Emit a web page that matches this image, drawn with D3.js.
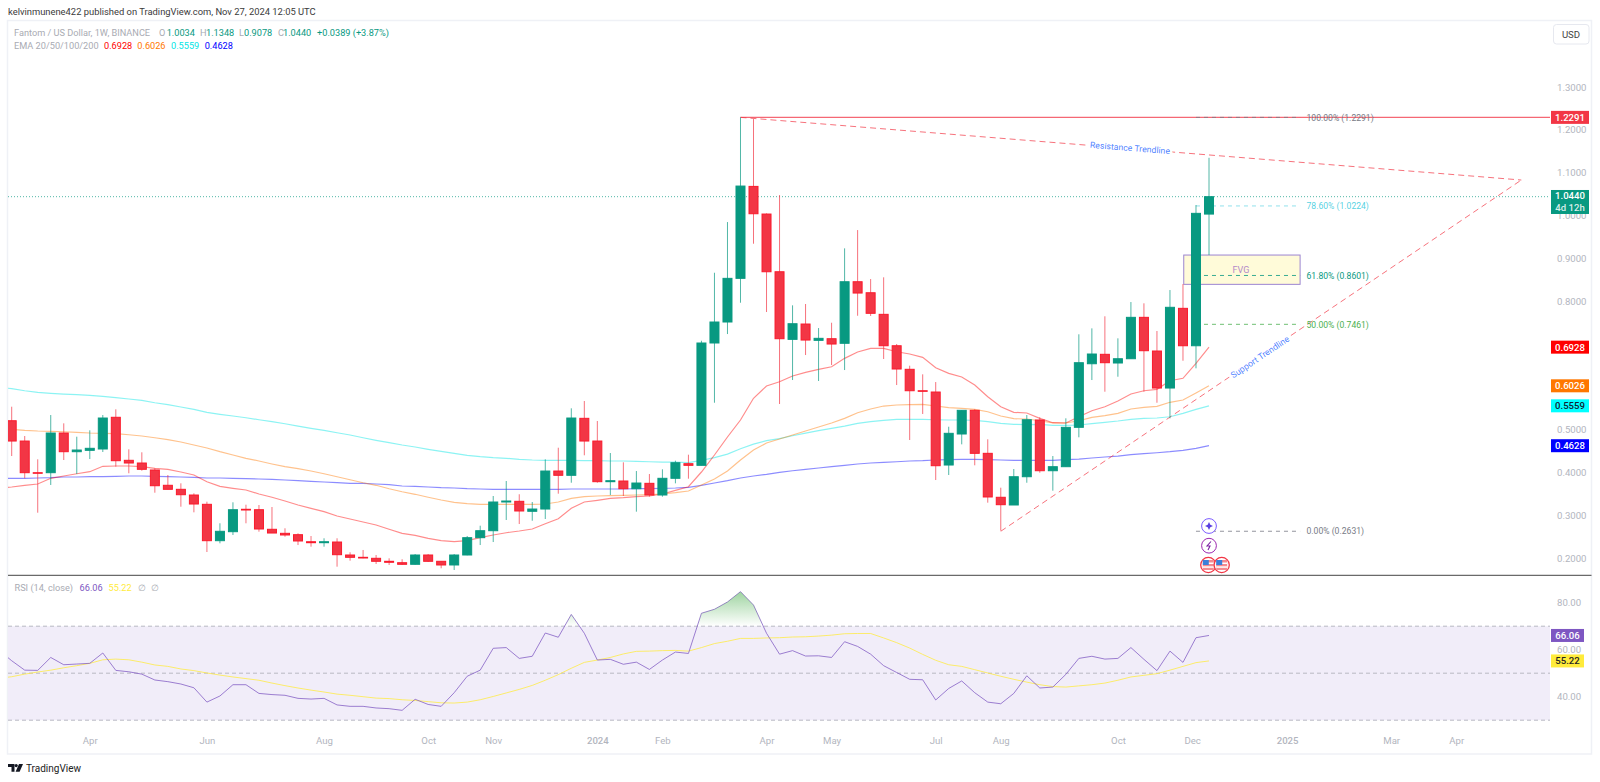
<!DOCTYPE html>
<html>
<head>
<meta charset="utf-8">
<title>Fantom / US Dollar</title>
<script src="https://d3js.org/d3.v7.min.js"></script>
<style>
    html, body { margin: 0; padding: 0; background: #fff; }
    svg { display: block; }
    text { font-family: Roboto, "Liberation Sans", sans-serif; }
    .tick text { fill: #b2b5be; font-size: 9.6px; }
</style>
</head>
<body>
<script>

// Weekly candles, first bar is index 0
var opens = [
    .5211,.4737,.3998,.3998,.4924,.4488,.4520,.4551,.5291,.4287,
    .4224,.4061,.3704,.3610,.3477,.3260,.2411,.2621,.3144,.3134,
    .2677,.2583,.2551,.2387,.2364,.2380,.2077,.2023,.2000,.1930,
    .1897,.1860,.2077,.1930,.1844,.2077,.2481,.2644,.3314,.3330,
    .3097,.3150,.4037,.3937,.5267,.4737,.3788,.3804,.3624,.3750,
    .3477,.3867,.4208,.4170,.7025,.7515,.8534,1.0680,1.0035,.8688,
    .7110,.7468,.7087,.7125,.7018,.8455,.8198,.7694,.6961,.6411,
    .5911,.5881,.4177,.4901,.5454,.4450,.3424,.3244,.3904,.5228,
    .4044,.4138,.5057,.6541,.6761,.6558,.6658,.7624,.6838,.5974,
    .7834,.6961,1.0034];
var highs = [
    .5538,.4854,.4310,.5344,.5150,.4838,.4987,.5344,.5477,.4544,
    .4474,.4100,.3944,.3750,.3517,.3321,.2817,.3307,.3251,.3244,
    .3197,.2700,.2583,.2520,.2467,.2467,.2140,.2194,.2077,.2000,
    .1977,.2100,.2100,.1930,.2100,.2520,.2761,.3454,.3804,.3494,
    .3314,.4310,.4581,.5501,.5671,.5204,.4457,.4240,.4037,.3967,
    .4077,.4278,.4418,.7078,.8665,.9848,1.2291,1.2252,1.0050,1.0478,
    .7904,.7935,.7374,.7498,.9234,.9661,.8518,.8558,.7001,.6495,
    .6294,.6114,.5071,.5461,.5477,.4777,.3648,.4084,.5344,.5291,
    .4387,.5267,.7228,.7367,.7648,.7134,.7981,.7951,.7305,.8261,
    .8401,1.0245,1.1348];
var lows = [
    .4387,.3867,.3064,.3711,.4294,.3967,.4317,.4481,.4138,.3984,
    .4044,.3531,.3610,.3204,.3073,.2147,.2350,.2544,.2817,.2621,
    .2590,.2504,.2310,.2271,.2271,.1804,.1944,.2000,.1867,.1844,
    .1844,.1851,.1914,.1767,.1727,.2070,.2310,.2380,.2894,.2800,
    .2877,.2917,.3508,.3764,.4404,.3764,.3477,.3454,.3088,.3438,
    .3438,.3750,.3858,.4170,.5631,.7234,.7965,.9342,.7748,.5601,
    .6161,.6744,.6138,.6511,.6394,.7661,.7655,.6651,.6044,.4761,
    .5368,.3827,.3944,.4660,.4170,.3298,.2644,.3244,.3764,.3998,
    .3578,.4138,.4824,.6161,.5888,.6238,.6658,.5888,.5631,.5267,
    .6611,.6434,.9078];
var closes = [
    .4737,.3998,.3984,.4924,.4488,.4527,.4567,.5274,.4278,.4224,
    .4077,.3694,.3610,.3484,.3267,.2411,.2630,.3134,.3127,.2684,
    .2590,.2544,.2404,.2364,.2387,.2084,.2023,.2007,.1930,.1907,
    .1860,.2077,.1930,.1844,.2077,.2481,.2644,.3314,.3337,.3104,
    .3150,.4037,.3937,.5274,.4737,.3788,.3811,.3624,.3757,.3477,
    .3867,.4231,.4170,.7025,.7515,.8534,1.0688,1.0042,.8688,.7125,
    .7475,.7094,.7134,.7001,.8455,.8191,.7718,.6961,.6418,.5911,
    .5897,.4161,.4917,.5454,.4450,.3431,.3251,.3904,.5234,.4044,
    .4138,.5057,.6565,.6768,.6565,.6658,.7624,.6845,.5974,.7858,
    .6961,1.0051,1.0440];

// Line series start one bar earlier (index -1), that bar sits off the left edge
var ema20 = [.3641,
    .3664,.3704,.3734,.3867,.3921,.3974,.4021,.4147,.4154,.4154,
    .4138,.4100,.4077,.4014,.3944,.3788,.3680,.3634,.3594,.3501,
    .3424,.3337,.3244,.3167,.3088,.2987,.2917,.2847,.2777,.2677,
    .2583,.2537,.2467,.2411,.2387,.2411,.2481,.2544,.2597,.2637,
    .2684,.2807,.2924,.3167,.3314,.3354,.3400,.3414,.3438,.3454,
    .3501,.3587,.3671,.4014,.4411,.4831,.5228,.5734,.6021,.6121,
    .6254,.6341,.6411,.6471,.6667,.6814,.6901,.6901,.6821,.6768,
    .6691,.6448,.6317,.6231,.6044,.5771,.5538,.5407,.5391,.5267,
    .5165,.5158,.5305,.5445,.5538,.5671,.5834,.5911,.5944,.6145,
    .6201,.6551,.6928];
var ema50 = [.5030,
    .5010,.4987,.4971,.4964,.4954,.4940,.4924,.4917,.4908,.4884,
    .4854,.4814,.4768,.4714,.4644,.4574,.4488,.4411,.4334,.4271,
    .4201,.4138,.4091,.4037,.3974,.3904,.3834,.3764,.3704,.3624,
    .3554,.3494,.3424,.3361,.3307,.3274,.3260,.3260,.3260,.3260,
    .3260,.3267,.3314,.3400,.3438,.3454,.3461,.3470,.3477,.3484,
    .3501,.3531,.3571,.3711,.3851,.4037,.4294,.4527,.4691,.4784,
    .4877,.4971,.5064,.5158,.5267,.5398,.5484,.5554,.5578,.5585,
    .5594,.5554,.5515,.5501,.5477,.5421,.5321,.5258,.5251,.5211,
    .5158,.5158,.5211,.5291,.5328,.5384,.5484,.5524,.5547,.5641,
    .5694,.5858,.6026];
var ema100 = [.5998,
    .5958,.5911,.5874,.5851,.5834,.5818,.5804,.5781,.5748,.5718,
    .5687,.5631,.5585,.5531,.5477,.5407,.5361,.5321,.5281,.5234,
    .5188,.5141,.5087,.5034,.4987,.4931,.4877,.4814,.4754,.4698,
    .4644,.4597,.4544,.4497,.4450,.4404,.4371,.4348,.4334,.4310,
    .4294,.4287,.4287,.4287,.4278,.4278,.4271,.4271,.4264,.4254,
    .4247,.4247,.4231,.4286,.4350,.4432,.4556,.4666,.4745,.4792,
    .4860,.4920,.4980,.5033,.5087,.5150,.5188,.5221,.5244,.5244,
    .5244,.5234,.5228,.5228,.5221,.5188,.5150,.5127,.5118,.5127,
    .5104,.5104,.5111,.5141,.5174,.5204,.5244,.5267,.5274,.5304,
    .5384,.5477,.5559];
var ema200 = [.3867,
    .3867,.3867,.3874,.3881,.3897,.3897,.3904,.3904,.3914,.3921,
    .3921,.3914,.3904,.3897,.3890,.3874,.3874,.3867,.3858,.3851,
    .3844,.3827,.3811,.3797,.3781,.3764,.3750,.3750,.3734,.3718,
    .3687,.3680,.3664,.3648,.3641,.3624,.3617,.3610,.3610,.3610,
    .3610,.3610,.3610,.3617,.3617,.3617,.3617,.3617,.3624,.3624,
    .3634,.3641,.3657,.3704,.3757,.3811,.3874,.3921,.3960,.4007,
    .4044,.4077,.4107,.4138,.4170,.4201,.4224,.4240,.4254,.4271,
    .4278,.4294,.4301,.4310,.4310,.4301,.4294,.4287,.4287,.4287,
    .4287,.4301,.4317,.4341,.4364,.4387,.4418,.4441,.4464,.4488,
    .4520,.4567,.4628];
var rsi = [59.9,
    55.3,51.3,51.2,56.7,53.6,53.9,54.2,58.6,51.2,50.6,
    49.6,47.1,46.4,45.4,43.8,37.7,40.3,45.1,45.1,41.4,
    40.9,40.6,39.3,39.0,39.3,36.5,35.9,35.9,35.2,34.9,
    34.2,38.9,36.7,35.9,41.7,48.7,51.3,60.6,60.9,56.3,
    57.2,67.1,65.3,75.0,67.0,55.6,55.9,53.8,54.7,51.6,
    55.6,59.0,58.4,75.5,77.2,80.3,84.7,79.0,67.0,58.1,
    59.6,57.3,57.4,56.7,63.4,61.4,58.1,53.2,50.3,47.4,
    47.2,38.6,43.5,46.7,41.7,37.7,37.0,41.4,48.9,43.7,
    44.1,49.5,56.3,57.2,56.0,56.3,60.9,55.9,51.1,59.4,
    54.6,65.1,66.06];
var rsiMa = [47.8,
    48.5,49.6,50.5,51.3,52.3,53.2,54.2,55.7,56.0,55.7,
    54.7,53.5,52.9,51.8,51.1,50.1,49.2,48.4,47.7,47.0,
    45.8,44.7,43.7,42.8,42.0,41.1,40.6,40.0,39.4,39.2,
    38.7,38.4,37.9,37.4,37.3,37.7,38.7,40.1,41.6,43.1,
    44.8,47.0,49.4,52.1,54.6,55.6,56.7,58.2,59.3,59.4,
    59.6,59.7,59.4,60.9,62.6,63.6,64.8,64.8,65.0,65.1,
    65.4,65.5,65.8,66.2,66.8,66.9,66.9,65.0,63.0,60.7,
    58.0,55.5,53.6,52.9,51.5,50.1,48.7,47.4,46.2,45.1,
    44.3,44.1,44.6,45.1,45.8,47.0,48.4,49.1,49.8,51.3,
    52.9,54.5,55.22];

// Axis ticks
var priceTicks = [1.3, 1.2, 1.1, 1.0, 0.9, 0.8, 0.7, 0.6, 0.5, 0.4, 0.3, 0.2];
var rsiTicks = [80, 60, 40];
var timeLabels = ["Apr", "Jun", "Aug", "Oct", "Nov", "2024", "Feb", "Apr", "May", "Jul", "Aug", "Oct", "Dec", "2025", "Mar", "Apr"];
var timeBars = [6, 15, 24, 32, 37, 45, 50, 58, 63, 71, 76, 85, 90.7, 98, 106, 111];

// Fibonacci levels
var fibValues = [1.2291, 1.0224, 0.8601, 0.7461, 0.2631];
var fibLabels = ["100.00% (1.2291)", "78.60% (1.0224)", "61.80% (0.8601)", "50.00% (0.7461)", "0.00% (0.2631)"];
var fibColors = ["#787b86", "#26c6da", "#089981", "#4caf50", "#787b86"];

// Drawn trendlines: [bar, price] pairs
var resistanceLine = [[56, 1.2291], [116, 1.0829]];
var supportLine = [[76, 0.2631], [116, 1.0829]];
var fvgBars = [90.06, 99];
var fvgPrices = [0.9078, 0.8394];

var width = 1600;
var height = 782;
var red = "#f23645";
var green = "#089981";

var svg = d3.select("body").append("svg")
    .attr("width", width)
    .attr("height", height);

// Scales
var x = d3.scaleLinear().domain([0, 92]).range([11.7, 1209]);
var y = d3.scaleLinear().domain([0.2, 1.3]).range([558.3, 87]);
var yRsi = d3.scaleLinear().domain([40, 80]).range([696.7, 602.7]);

var defs = svg.append("defs");
defs.append("clipPath").attr("id", "pricePane").append("rect")
    .attr("x", 8).attr("y", 21).attr("width", 1542).attr("height", 553.5);
defs.append("clipPath").attr("id", "rsiPane").append("rect")
    .attr("x", 8).attr("y", 576).attr("width", 1542).attr("height", 176);
defs.append("clipPath").attr("id", "overbought").append("rect")
    .attr("x", 8).attr("y", 576).attr("width", 1542).attr("height", yRsi(70) - 576);
var grad = defs.append("linearGradient").attr("id", "obFill")
    .attr("gradientUnits", "userSpaceOnUse")
    .attr("x1", 0).attr("x2", 0).attr("y1", yRsi(85)).attr("y2", yRsi(70));
grad.append("stop").attr("offset", "0%").attr("stop-color", "#4caf50").attr("stop-opacity", 0.55);
grad.append("stop").attr("offset", "100%").attr("stop-color", "#4caf50").attr("stop-opacity", 0);

// Frame round the chart
svg.append("rect")
    .attr("x", 7.5).attr("y", 20.5).attr("width", 1584).attr("height", 733.5)
    .attr("fill", "none").attr("stroke", "#eff1f6").attr("stroke-width", 1.5);

// Header
svg.append("text").attr("x", 8).attr("y", 15)
    .attr("font-size", 9.4).attr("fill", "#3a3a3a")
    .text("kelvinmunene422 published on TradingView.com, Nov 27, 2024 12:05 UTC");

// Price pane
var pane = svg.append("g").attr("clip-path", "url(#pricePane)");

function linePath(yScale) {
    return d3.line()
        .x(function(d, i) { return x(i - 1); })
        .y(function(d) { return yScale(d); });
}

pane.selectAll("path.ema")
    .data([[ema200, "#0000ff"], [ema100, "#00e5e5"], [ema50, "#ff7700"], [ema20, "#ff0000"]])
    .enter().append("path")
    .attr("class", "ema")
    .attr("fill", "none")
    .attr("stroke", function(d) { return d[1]; })
    .attr("stroke-opacity", 0.45)
    .attr("stroke-width", 1.2)
    .attr("d", function(d) { return linePath(y)(d[0]); });

// Last price line
pane.append("line")
    .attr("x1", 8).attr("x2", 1550)
    .attr("y1", y(closes[92])).attr("y2", y(closes[92]))
    .attr("stroke", green).attr("stroke-opacity", 0.7)
    .attr("stroke-dasharray", "1 2");

// 1.2291 line
pane.append("line")
    .attr("x1", x(56)).attr("x2", 1550)
    .attr("y1", y(1.2291)).attr("y2", y(1.2291))
    .attr("stroke", red).attr("stroke-opacity", 0.75).attr("stroke-width", 1.2);

// Trendlines
var trend = d3.line()
    .x(function(d) { return x(d[0]); })
    .y(function(d) { return y(d[1]); });
pane.selectAll("path.trend")
    .data([resistanceLine, supportLine])
    .enter().append("path")
    .attr("class", "trend")
    .attr("fill", "none")
    .attr("stroke", red).attr("stroke-opacity", 0.7)
    .attr("stroke-dasharray", "6 4")
    .attr("d", trend);

// FVG box
pane.append("rect")
    .attr("x", x(fvgBars[0])).attr("width", x(fvgBars[1]) - x(fvgBars[0]))
    .attr("y", y(fvgPrices[0])).attr("height", y(fvgPrices[1]) - y(fvgPrices[0]))
    .attr("fill", "#fffbd9").attr("stroke", "#9c85d1");
pane.append("text")
    .attr("x", 1241).attr("y", 273)
    .attr("text-anchor", "middle").attr("font-size", 9).attr("fill", "#b48ac9")
    .text("FVG");

// Fibonacci lines and labels
fibValues.forEach(function(v, i) {
    pane.append("line")
        .attr("x1", x(91)).attr("x2", x(99))
        .attr("y1", y(v)).attr("y2", y(v))
        .attr("stroke", fibColors[i])
        .attr("stroke-opacity", i == 1 ? 0.5 : 0.8)
        .attr("stroke-dasharray", "4 4");
    pane.append("text")
        .attr("x", 1306.5).attr("y", y(v) + 3.2)
        .attr("font-size", 8.6)
        .attr("fill", fibColors[i])
        .attr("fill-opacity", i == 1 ? 0.8 : 1)
        .text(fibLabels[i]);
});

// Trendline captions, white halo cuts the dashes
function caption(label, cx, cy, angle) {
    pane.append("text")
        .attr("transform", "translate(" + cx + "," + cy + ") rotate(" + angle + ")")
        .attr("text-anchor", "middle")
        .attr("dy", 3)
        .attr("font-size", 8.7)
        .attr("fill", "#2f6bff")
        .attr("fill-opacity", 0.85)
        .attr("stroke", "#fff").attr("stroke-width", 5).attr("paint-order", "stroke")
        .text(label);
}
caption("Resistance Trendline", 1130, 148, 4.6);
caption("Support Trendline", 1260, 357, -34);

// Candles
var candles = pane.selectAll("g.candle")
    .data(d3.range(opens.length))
    .enter().append("g")
    .attr("class", "candle");

candles.append("line")
    .attr("x1", function(i) { return x(i); })
    .attr("x2", function(i) { return x(i); })
    .attr("y1", function(i) { return y(highs[i]); })
    .attr("y2", function(i) { return y(lows[i]); })
    .attr("stroke", function(i) { return closes[i] < opens[i] ? red : green; })
    .attr("stroke-opacity", 0.7);

candles.append("rect")
    .attr("x", function(i) { return x(i) - 4.5; })
    .attr("width", 9)
    .attr("y", function(i) { return y(Math.max(opens[i], closes[i])); })
    .attr("height", function(i) { return Math.abs(y(opens[i]) - y(closes[i])); })
    .attr("fill", function(i) { return closes[i] < opens[i] ? red : green; })
    .attr("stroke", function(i) { return closes[i] < opens[i] ? "#fa1a2c" : green; });

// Event icons under the last bar
var icons = pane.append("g");
icons.append("circle").attr("cx", 1209).attr("cy", 526).attr("r", 7.4)
    .attr("fill", "#fff").attr("stroke", "#7c5cff").attr("stroke-width", 1);
icons.append("path").attr("d", "M1209 522l1.3 2.7 2.7 1.3-2.7 1.3-1.3 2.7-1.3-2.7-2.7-1.3 2.7-1.3z")
    .attr("fill", "#5a3fe0");
icons.append("circle").attr("cx", 1209).attr("cy", 545.7).attr("r", 7.4)
    .attr("fill", "#fff").attr("stroke", "#9c27b0").attr("stroke-width", 1);
icons.append("path").attr("d", "M1211 541.5l-4 4.5h3l-2 4")
    .attr("fill", "none").attr("stroke", "#7b1fa2").attr("stroke-width", 1.1);
[1208.3, 1221.7].forEach(function(cx) {
    var g = icons.append("g");
    g.append("circle").attr("cx", cx).attr("cy", 565).attr("r", 7.6)
        .attr("fill", "#fff").attr("stroke", "#f23645").attr("stroke-width", 1.3);
    g.append("rect").attr("x", cx - 5.5).attr("y", 560).attr("width", 11).attr("height", 10)
        .attr("fill", "#f58a90");
    g.append("rect").attr("x", cx - 5.5).attr("y", 562.5).attr("width", 11).attr("height", 1.5)
        .attr("fill", "#fff");
    g.append("rect").attr("x", cx - 5.5).attr("y", 566.3).attr("width", 11).attr("height", 1.5)
        .attr("fill", "#fff");
    g.append("rect").attr("x", cx - 5.5).attr("y", 560).attr("width", 6).attr("height", 5)
        .attr("fill", "#3d7fd9");
});

// Pane divider
svg.append("line")
    .attr("x1", 8).attr("x2", 1591.5).attr("y1", 575.3).attr("y2", 575.3)
    .attr("stroke", "#6a6a6a").attr("stroke-width", 1.2);

// RSI pane
var rsiPane = svg.append("g").attr("clip-path", "url(#rsiPane)");
rsiPane.append("rect")
    .attr("x", 8).attr("width", 1542)
    .attr("y", yRsi(70)).attr("height", yRsi(30) - yRsi(70))
    .attr("fill", "#f1edf9");
[70, 50, 30].forEach(function(v) {
    rsiPane.append("line")
        .attr("x1", 8).attr("x2", 1550)
        .attr("y1", yRsi(v)).attr("y2", yRsi(v))
        .attr("stroke", "#b9b8c2").attr("stroke-dasharray", "4 3");
});
var obArea = d3.area()
    .x(function(d, i) { return x(i - 1); })
    .y0(yRsi(70))
    .y1(function(d) { return yRsi(d); });
svg.append("g").attr("clip-path", "url(#overbought)").append("path")
    .attr("fill", "url(#obFill)")
    .attr("d", obArea(rsi));
rsiPane.append("path")
    .attr("fill", "none").attr("stroke", "#ffeb3b").attr("stroke-opacity", 0.75)
    .attr("d", linePath(yRsi)(rsiMa));
rsiPane.append("path")
    .attr("fill", "none").attr("stroke", "#7e57c2").attr("stroke-opacity", 0.75)
    .attr("d", linePath(yRsi)(rsi));

// Right hand axes
var priceAxis = d3.axisRight(y)
    .tickValues(priceTicks)
    .tickSize(0)
    .tickPadding(0)
    .tickFormat(d3.format(".4f"));
svg.append("g").attr("transform", "translate(1557,0)").call(priceAxis)
    .call(function(g) { g.select(".domain").remove(); });

var rsiAxis = d3.axisRight(yRsi)
    .tickValues(rsiTicks)
    .tickSize(0)
    .tickPadding(0)
    .tickFormat(d3.format(".2f"));
svg.append("g").attr("transform", "translate(1557,0)").call(rsiAxis)
    .call(function(g) { g.select(".domain").remove(); });

// Time axis
var timeAxis = d3.axisBottom(x)
    .tickValues(timeBars)
    .tickSize(0)
    .tickPadding(0)
    .tickFormat(function(d, i) { return timeLabels[i]; });
svg.append("g").attr("transform", "translate(0,737)").call(timeAxis)
    .call(function(g) { g.select(".domain").remove(); })
    .selectAll("text")
    .attr("font-weight", function(d, i) { return /^\d/.test(timeLabels[i]) ? 500 : null; });

// Value tags on the axis
function tag(cy, h, w, bg, fg, label, label2) {
    svg.append("rect")
        .attr("x", 1551).attr("y", cy - h / 2).attr("width", w).attr("height", h)
        .attr("fill", bg);
    svg.append("text")
        .attr("x", 1551 + w / 2).attr("y", label2 ? cy - 2.5 : cy + 3.5)
        .attr("text-anchor", "middle").attr("font-size", 9.6).attr("font-weight", 500)
        .attr("fill", fg).text(label);
    if (label2) {
        svg.append("text")
            .attr("x", 1551 + w / 2).attr("y", cy + 9)
            .attr("text-anchor", "middle").attr("font-size", 9.6).attr("font-weight", 500)
            .attr("fill", fg).attr("fill-opacity", 0.85).text(label2);
    }
}
tag(y(1.2291), 13, 38, red, "#fff", "1.2291");
tag(y(closes[92]) + 5.3, 24, 38, green, "#fff", "1.0440", "4d 12h");
tag(y(0.6928), 13, 38, "#ff0000", "#fff", "0.6928");
tag(y(0.6026), 13, 38, "#ff7700", "#fff", "0.6026");
tag(y(0.5559), 13, 38, "#00ffff", "#123", "0.5559");
tag(y(0.4628), 13, 38, "#0000ff", "#fff", "0.4628");
tag(yRsi(66.06), 13, 33, "#7e57c2", "#fff", "66.06");
tag(yRsi(55.22), 13, 33, "#ffeb3b", "#222", "55.22");

// USD button
svg.append("rect")
    .attr("x", 1553.5).attr("y", 24.5).attr("width", 35.5).attr("height", 19.5).attr("rx", 3)
    .attr("fill", "#fff").attr("stroke", "#e6e8ef");
svg.append("text")
    .attr("x", 1571).attr("y", 37.8)
    .attr("text-anchor", "middle").attr("font-size", 9.6).attr("fill", "#444")
    .text("USD");

// Legends
function legend(xPos, yPos, color, label) {
    svg.append("text")
        .attr("x", xPos).attr("y", yPos)
        .attr("font-size", 9.2).attr("fill", color)
        .text(label);
}
legend(14, 36, "#a9abb3", "Fantom / US Dollar, 1W, BINANCE");
legend(159, 36, "#a9abb3", "O");
legend(166.7, 36, green, "1.0034");
legend(200, 36, "#a9abb3", "H");
legend(206, 36, green, "1.1348");
legend(239, 36, "#a9abb3", "L");
legend(244, 36, green, "0.9078");
legend(278, 36, "#a9abb3", "C");
legend(283, 36, green, "1.0440");
legend(317, 36, green, "+0.0389 (+3.87%)");
legend(14, 49, "#a9abb3", "EMA 20/50/100/200");
legend(104, 49, "#ff0000", "0.6928");
legend(137.3, 49, "#ff7700", "0.6026");
legend(171, 49, "#00e5e5", "0.5559");
legend(204.7, 49, "#0000ff", "0.4628");
legend(14.5, 591, "#a9abb3", "RSI (14, close)");
legend(79.6, 591, "#7e57c2", "66.06");
legend(108.6, 591, "#ffeb3b", "55.22");
legend(138, 591, "#a9abb3", "∅");
legend(150.5, 591, "#a9abb3", "∅");

// TradingView mark and name
svg.append("path")
    .attr("d", "M8 764h6.5v7.7h-3v-4.7h-3.5z")
    .attr("fill", "#131722");
svg.append("circle").attr("cx", 16.2).attr("cy", 765.6).attr("r", 1.6).attr("fill", "#131722");
svg.append("path").attr("d", "M19 764h4l-3.4 7.7h-4z").attr("fill", "#131722");
svg.append("text")
    .attr("x", 26).attr("y", 771.5)
    .attr("font-size", 10).attr("fill", "#222")
    .text("TradingView");

</script>
</body>
</html>
